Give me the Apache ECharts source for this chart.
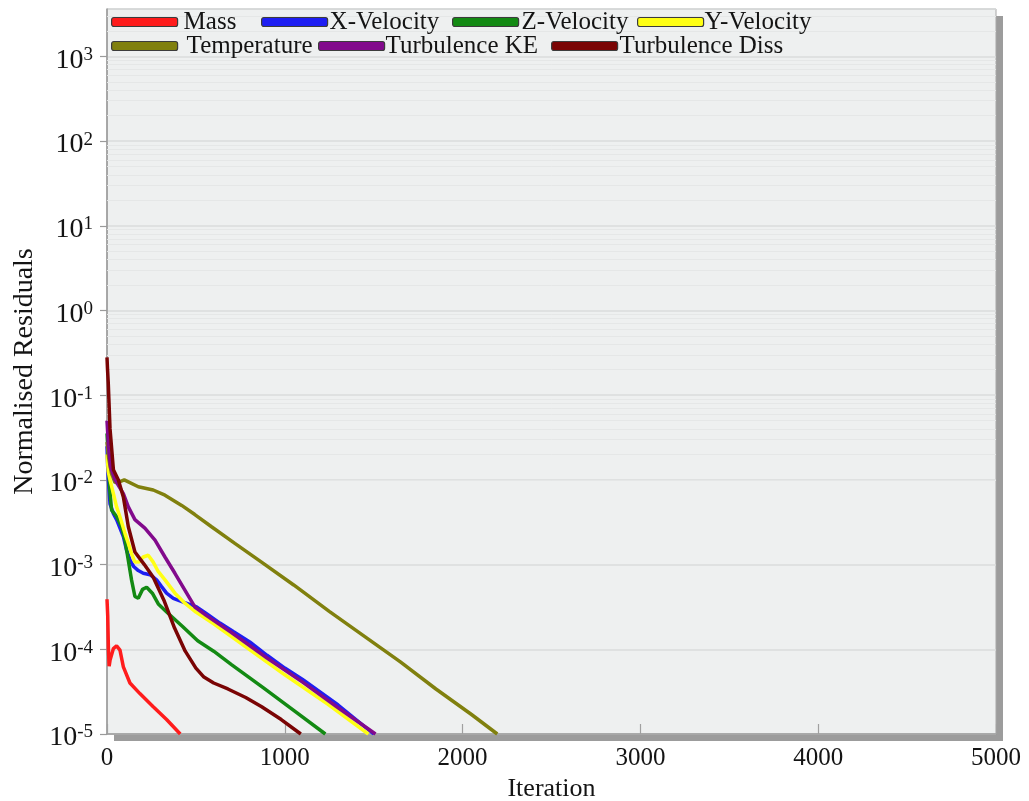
<!DOCTYPE html>
<html><head><meta charset="utf-8">
<script src="https://cdn.jsdelivr.net/npm/echarts@6/dist/echarts.min.js"></script>
<style>html,body{margin:0;padding:0;background:#fff}#c{width:1029px;height:801px}</style>
</head><body><div id="c"></div>
<script>
// ---- data (iteration, normalised residual) ----
const SERIES_NAMES = ['Mass','X-Velocity','Z-Velocity','Y-Velocity','Temperature','Turbulence KE','Turbulence Diss'];
const COLORS = ['#ff1c1c','#1e1ef2','#138a13','#ffff14','#80800e','#820a8c','#7a0404'];

const massData = [[0,3.9e-4],[4,2.5e-4],[8,1.0e-4],[12,6.3e-5],[17,7.4e-5],[36,1.02e-4],[54,1.1e-4],[73,9.8e-5],[92,6.2e-5],[129,4.0e-5],[185,3.0e-5],[260,2.1e-5],[335,1.48e-5],[412,1.0e-5]];
const xVelData = [[0,2.5e-2],[4,1.41e-2],[7,1.07e-2],[17,5.2e-3],[36,4.0e-3],[54,3.4e-3],[73,2.7e-3],[92,2.14e-3],[110,1.48e-3],[130,1.12e-3],[150,9.5e-4],[176,8.5e-4],[204,7.9e-4],[242,7.6e-4],[279,6.6e-4],[307,5.5e-4],[335,4.6e-4],[373,4.0e-4],[429,3.6e-4],[504,3.16e-4],[560,2.63e-4],[635,2.04e-4],[710,1.62e-4],[803,1.22e-4],[900,8.5e-5],[1000,6.0e-5],[1100,4.4e-5],[1300,2.2e-5],[1500,1.0e-5]];
const zVelData = [[0,3.55e-2],[4,2.5e-2],[7,2.0e-2],[15,7.9e-3],[26,4.4e-3],[54,3.7e-3],[82,2.8e-3],[101,1.95e-3],[120,1.12e-3],[138,6.6e-4],[157,4.2e-4],[176,4.0e-4],[200,5.1e-4],[223,5.4e-4],[255,4.6e-4],[290,3.4e-4],[340,2.7e-4],[425,1.86e-4],[510,1.26e-4],[600,9.5e-5],[700,6.6e-5],[880,3.5e-5],[1050,1.9e-5],[1228,1.0e-5]];
const yVelData = [[0,2.0e-2],[7,1.26e-2],[17,1.0e-2],[36,6.9e-3],[54,4.8e-3],[75,3.55e-3],[101,2.34e-3],[120,1.78e-3],[138,1.35e-3],[157,1.07e-3],[180,1.07e-3],[204,1.23e-3],[232,1.29e-3],[260,1.07e-3],[288,8.3e-4],[326,6.6e-4],[382,4.6e-4],[438,3.5e-4],[500,2.75e-4],[600,2.0e-4],[800,1.0e-4],[1000,5.0e-5],[1243,2.24e-5],[1470,1.0e-5]];
const tempData = [[0,2.8e-2],[10,1.78e-2],[25,1.2e-2],[45,9.3e-3],[70,9.5e-3],[97,1.0e-2],[176,8.3e-3],[260,7.6e-3],[326,6.6e-3],[420,5.0e-3],[494,3.9e-3],[588,2.8e-3],[719,1.78e-3],[869,1.07e-3],[1050,5.75e-4],[1250,2.8e-4],[1450,1.41e-4],[1650,7.1e-5],[1850,3.4e-5],[2050,1.7e-5],[2195,1.0e-5]];
const tkeData = [[0,5.0e-2],[8,2.5e-2],[20,1.41e-2],[45,1.0e-2],[92,6.9e-3],[120,4.8e-3],[157,3.4e-3],[213,2.7e-3],[270,1.95e-3],[326,1.23e-3],[382,7.9e-4],[438,5.0e-4],[494,3.16e-4],[560,2.5e-4],[700,1.58e-4],[900,7.9e-5],[1100,4.1e-5],[1300,2.04e-5],[1510,1.0e-5]];
const tdissData = [[0,2.8e-1],[3,2.0e-1],[7,1.41e-1],[17,4.0e-2],[36,1.32e-2],[64,1.0e-2],[92,6.3e-3],[120,2.8e-3],[157,1.41e-3],[210,1.0e-3],[260,7.1e-4],[320,3.8e-4],[380,1.78e-4],[440,9.5e-5],[500,6.0e-5],[545,4.7e-5],[600,4.0e-5],[680,3.4e-5],[780,2.7e-5],[870,2.1e-5],[980,1.48e-5],[1090,1.0e-5]];
const SERIES_DATA = [massData, xVelData, zVelData, yVelData, tempData, tkeData, tdissData];

const X_MIN = 0, X_MAX = 5000, X_INTERVAL = 1000;
const Y_MIN = 1e-5, Y_MAX = 3630;
const MINOR_MULTIPLIERS = [2,3,4,5,6,7,8,9];
const DECADES = [-5,-4,-3,-2,-1,0,1,2,3];

// ---- layout ----
const FONT = '"Liberation Serif","Times New Roman",serif';
const LEGEND_POS = [[111,9,1],[261,9,-3],[452,9,-2],[637,9,-4],[111,33,4],[318,33,-4],[551,33,-3]];
const GRID_BOX = { left: 107, right: 33, top: 9, bottom: 67, containLabel: false, outerBoundsMode: 'none' };

const minorLines = [];
DECADES.forEach(e => MINOR_MULTIPLIERS.forEach(m => {
  const v = m * Math.pow(10, e);
  if (v < Y_MAX) minorLines.push({ yAxis: v });
}));

const chart = echarts.init(document.getElementById('c'), null, { renderer: 'canvas' });
chart.setOption({
  animation: false,
  backgroundColor: '#ffffff',
  grid: [
    Object.assign({ show: true, backgroundColor: '#eef0f0', borderWidth: 0,
      shadowColor: '#9c9c9c', shadowBlur: 0, shadowOffsetX: 7, shadowOffsetY: 7 }, GRID_BOX),
    Object.assign({ show: true, backgroundColor: 'transparent', borderColor: '#a8a8a8', borderWidth: 1 }, GRID_BOX)
  ],
  legend: SERIES_NAMES.map((n, i) => ({
    data: [n], left: LEGEND_POS[i][0], top: LEGEND_POS[i][1], padding: 0,
    icon: 'roundRect', itemWidth: 66, itemHeight: 9,
    itemStyle: { borderColor: '#3c3c3c', borderWidth: 1.2 },
    textStyle: { fontFamily: FONT, fontSize: 25, color: '#141414', lineHeight: 26, padding: [0, 0, 0, LEGEND_POS[i][2]] },
    selectedMode: false
  })),
  xAxis: {
    gridIndex: 0,
    type: 'value', min: X_MIN, max: X_MAX, interval: X_INTERVAL,
    name: 'Iteration', nameLocation: 'middle', nameGap: 40,
    nameTextStyle: { fontFamily: FONT, fontSize: 26, color: '#141414' },
    axisLine: { show: true, lineStyle: { color: '#9a9a9a', width: 1.5 } },
    axisTick: { show: true, inside: true, length: 10, lineStyle: { color: '#a0a0a0', width: 1.2 } },
    axisLabel: { fontFamily: FONT, fontSize: 25, color: '#141414', margin: 12, formatter: v => String(v) },
    splitLine: { show: false }
  },
  yAxis: {
    gridIndex: 0,
    type: 'log', logBase: 10, min: Y_MIN, max: Y_MAX,
    name: 'Normalised Residuals', nameLocation: 'middle', nameGap: 66,
    nameTextStyle: { fontFamily: FONT, fontSize: 28, color: '#141414' },
    axisLine: { show: true, lineStyle: { color: '#9a9a9a', width: 1.5 } },
    axisTick: { show: true, inside: false, length: 7, lineStyle: { color: '#9a9a9a', width: 1.2 } },
    axisLabel: {
      margin: 14, padding: [8, 0, 0, 0], showMaxLabel: false,
      formatter: v => {
        const e = Math.log10(v);
        if (Math.abs(e - Math.round(e)) > 1e-6) return '';
        return '{b|10}{s|' + Math.round(e) + '}';
      },
      rich: {
        b: { fontFamily: FONT, fontSize: 28, color: '#141414', lineHeight: 30 },
        s: { fontFamily: FONT, fontSize: 19, color: '#141414', lineHeight: 19, verticalAlign: 'top' }
      }
    },
    splitLine: { show: true, lineStyle: { color: '#dadddd', width: 1.5 } }
  },
  series: SERIES_NAMES.map((name, i) => {
    const s = {
      type: 'line', name, data: SERIES_DATA[i],
      showSymbol: false, symbol: 'none', clip: true,
      lineStyle: { width: 3.5, color: COLORS[i] },
      itemStyle: { color: COLORS[i] },
      emphasis: { disabled: true }
    };
    if (i === 0) {
      s.markLine = {
        silent: true, z: 1, symbol: ['none', 'none'], animation: false,
        label: { show: false },
        lineStyle: { color: '#e5e7e7', width: 1, type: 'solid' },
        emphasis: { disabled: true },
        data: minorLines
      };
    }
    return s;
  })
});
</script>
</body></html>
